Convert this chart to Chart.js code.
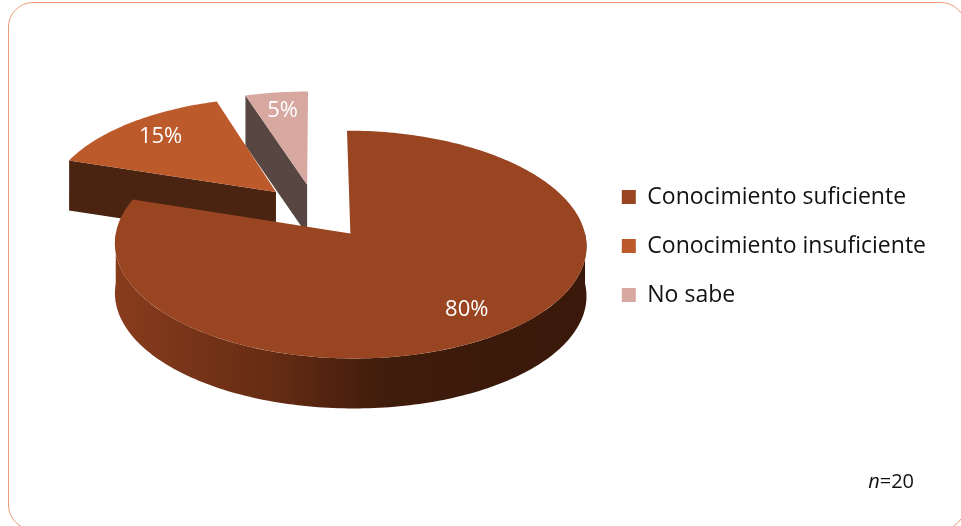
<!DOCTYPE html>
<html>
<head>
<meta charset="utf-8">
<script src="https://cdn.jsdelivr.net/npm/chart.js@4.4.0/dist/chart.umd.min.js"></script>
<style>
  html, body { margin: 0; padding: 0; background: #fff; overflow: hidden; }
  #frame {
    position: absolute; left: 8px; top: 2px; width: 958px; height: 528px;
    box-sizing: border-box; border: 1.5px solid #ec9b72; border-radius: 25px;
  }
  #chart { position: absolute; left: 0; top: 0; }
</style>
</head>
<body>
<div id="frame"></div>
<canvas id="chart" width="961" height="526"></canvas>
<script>
var labels = ['Conocimiento suficiente', 'Conocimiento insuficiente', 'No sabe'];
var shares = [80, 15, 5];
var sample_size = 20;

// top face, cut face and outer wall colours per slice
var top_clr = ['#9a4522', '#bc5a2c', '#d6a8a0'];
var side_clr = ['#45200e', '#4a2410', '#574641'];
var wall_clr = [
  ['#8e3f1e', '#662c14', '#401c0c', '#3a190a'],
  ['#7a3a1c', '#5e2a13', '#4a2410', '#3f1d0c'],
  ['#8a6e68', '#6e5852', '#574641', '#4a3a35']
];

// point of a slice at angle a, distance r from its apex, z px below the top face
function project(s, a, r, z, opts) {
  var u = s.ox + Math.cos(a) * r;
  var v = s.oy + Math.sin(a) * r;
  var f = 1 + opts.persp * v / s.R;
  return [s.X0 + u * f, s.Y0 + v * opts.tilt * f + z];
}

function trace_rim(ctx, s, a0, a1, z, opts) {
  var steps = Math.max(2, Math.ceil(Math.abs(a1 - a0) / 0.02));
  for (var j = 0; j <= steps; j++) {
    var p = project(s, a0 + (a1 - a0) * j / steps, s.R, z, opts);
    ctx.lineTo(p[0], p[1]);
  }
}

function draw_slice(ctx, s, opts) {
  var d = opts.depth;
  var apex = project(s, 0, 0, 0, opts);

  // straight cut faces, only the ones turned towards the viewer
  [[s.a0, s.a0 - Math.PI / 2], [s.a1, s.a1 + Math.PI / 2]].forEach(function(e) {
    if (Math.sin(e[1]) <= 0.001) return;
    var p = project(s, e[0], s.R, 0, opts);
    ctx.beginPath();
    ctx.moveTo(apex[0], apex[1]);
    ctx.lineTo(p[0], p[1]);
    ctx.lineTo(p[0], p[1] + d);
    ctx.lineTo(apex[0], apex[1] + d);
    ctx.closePath();
    ctx.fillStyle = side_clr[s.i];
    ctx.fill();
  });

  // outer wall, front half only
  for (var k = -1; k <= 1; k++) {
    var lo = Math.max(s.a0, 2 * Math.PI * k);
    var hi = Math.min(s.a1, 2 * Math.PI * k + Math.PI);
    if (hi <= lo) continue;
    var g = ctx.createLinearGradient(s.X0 - s.R, 0, s.X0 + s.R, 0);
    g.addColorStop(0, wall_clr[s.i][0]);
    g.addColorStop(0.4, wall_clr[s.i][1]);
    g.addColorStop(0.65, wall_clr[s.i][2]);
    g.addColorStop(1, wall_clr[s.i][3]);
    ctx.beginPath();
    trace_rim(ctx, s, lo, hi, 0, opts);
    trace_rim(ctx, s, hi, lo, d, opts);
    ctx.closePath();
    ctx.fillStyle = g;
    ctx.fill();
  }

  // top face
  ctx.beginPath();
  ctx.moveTo(apex[0], apex[1]);
  trace_rim(ctx, s, s.a0, s.a1, 0, opts);
  ctx.closePath();
  ctx.fillStyle = top_clr[s.i];
  ctx.fill();
}

// tilted, exploded pie with depth, built from the arc elements' geometry
var pie3d = {
  id: 'pie3d',
  beforeDatasetsDraw: function(chart, args, opts) {
    var ctx = chart.ctx;
    var arcs = chart.getDatasetMeta(0).data;
    var slices = arcs.map(function(arc, i) {
      var p = arc.getProps(['x', 'y', 'startAngle', 'endAngle', 'outerRadius']);
      var mid = (p.startAngle + p.endAngle) / 2;
      return {
        i: i, a0: p.startAngle, a1: p.endAngle, mid: mid, R: p.outerRadius,
        X0: p.x, Y0: p.y - opts.lift,
        ox: Math.cos(mid) * p.outerRadius * opts.explode,
        oy: Math.sin(mid) * p.outerRadius * opts.explode
      };
    });

    ctx.save();
    // back slices first
    slices.slice().sort(function(a, b) {
      return Math.sin(a.mid) - Math.sin(b.mid);
    }).forEach(function(s) {
      draw_slice(ctx, s, opts);
    });

    ctx.fillStyle = '#ffffff';
    ctx.font = '22px "Open Sans"';
    ctx.textAlign = 'center';
    ctx.textBaseline = 'middle';
    slices.forEach(function(s) {
      var p = project(s, s.mid, s.R * opts.labelAt, 0, opts);
      ctx.fillText(shares[s.i] + '%', p[0], p[1]);
    });
    ctx.restore();
    return false;
  }
};

var sample_note = {
  id: 'sample_note',
  afterDraw: function(chart) {
    var ctx = chart.ctx;
    var rest = '=' + sample_size;
    ctx.save();
    ctx.fillStyle = '#111111';
    ctx.textBaseline = 'alphabetic';
    ctx.font = '20px "Open Sans"';
    var w_rest = ctx.measureText(rest).width;
    ctx.font = 'italic 20px "Open Sans"';
    var w_n = ctx.measureText('n').width;
    var x = chart.width - 47 - w_n - w_rest;
    ctx.fillText('n', x, 488);
    ctx.font = '20px "Open Sans"';
    ctx.fillText(rest, x + w_n, 488);
    ctx.restore();
  }
};

var ctx = document.getElementById('chart').getContext('2d');
window.myChart = new Chart(ctx, {
  type: 'pie',
  data: {
    labels: labels,
    datasets: [
      {
        data: shares,
        backgroundColor: top_clr,
        borderWidth: 0,
        radius: 230
      }
    ]
  },
  options: {
    responsive: false,
    animation: false,
    events: [],
    layout: {
      padding: {left: 36, right: 25, top: 2, bottom: 36}
    },
    plugins: {
      legend: {
        position: 'right',
        align: 'center',
        labels: {
          boxWidth: 14,
          boxHeight: 14,
          padding: 26,
          color: '#111111',
          font: {family: 'Open Sans', size: 23}
        }
      },
      tooltip: {enabled: false},
      pie3d: {
        tilt: 0.476,
        persp: 0.1,
        depth: 50,
        lift: 35,
        explode: 0.25,
        labelAt: 0.78
      }
    }
  },
  plugins: [pie3d, sample_note]
});
</script>
</body>
</html>
